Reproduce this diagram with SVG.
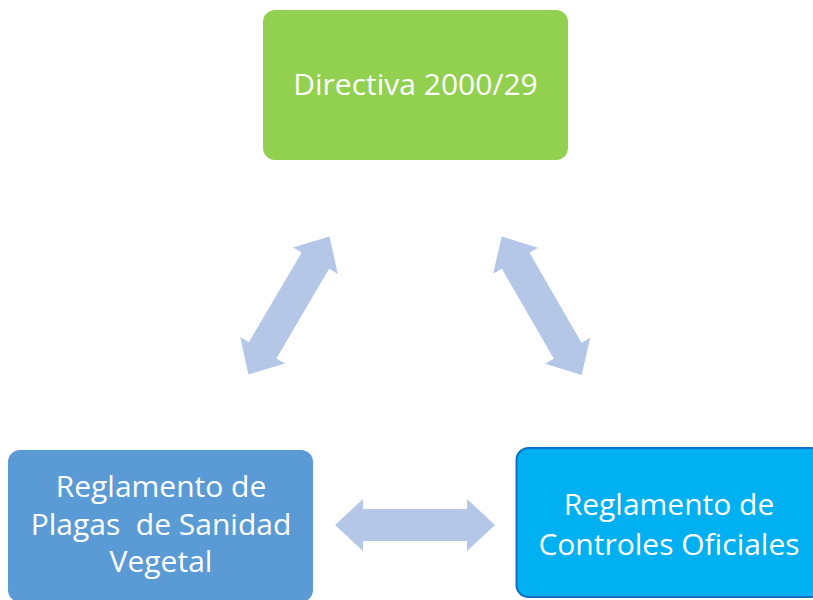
<svg xmlns="http://www.w3.org/2000/svg" width="813" height="600" viewBox="0 0 813 600">
<style>
.lbl{font-family:"Open Sans","Liberation Sans",sans-serif;font-size:30px;fill:#ffffff;text-anchor:middle;white-space:pre}
.arr{fill:#B4C7E7}
</style>
<defs>
<path id="dblarrow" d="M-80,0 L-52,-26 L-52,-16 L52,-16 L52,-26 L80,0 L52,26 L52,16 L-52,16 L-52,26 Z"/>
</defs>
<rect width="813" height="600" fill="#ffffff"/>
<g id="connectors">
<use href="#dblarrow" class="arr" transform="translate(415,525)"/>
<use href="#dblarrow" class="arr" transform="translate(289,305.5) rotate(-59.5)"/>
<use href="#dblarrow" class="arr" transform="translate(541.7,305.8) rotate(60)"/>
</g>
<g id="directiva">
<rect x="263" y="10" width="305" height="150" rx="12" fill="#92D050"/>
<text class="lbl" x="415.5" y="95">Directiva 2000/29</text>
</g>
<g id="plagas">
<rect x="8" y="450" width="305" height="152" rx="12" fill="#5B9BD5"/>
<text class="lbl" x="161" y="497" xml:space="preserve">Reglamento de</text>
<text class="lbl" x="161" y="535" xml:space="preserve">Plagas  de Sanidad</text>
<text class="lbl" x="161" y="572" xml:space="preserve">Vegetal</text>
</g>
<g id="controles">
<rect x="516.5" y="448" width="306" height="149" rx="12" fill="#00B0F0" stroke="#0F6FC6" stroke-width="2"/>
<text class="lbl" x="669" y="515">Reglamento de</text>
<text class="lbl" x="669" y="555">Controles Oficiales</text>
</g>
</svg>
